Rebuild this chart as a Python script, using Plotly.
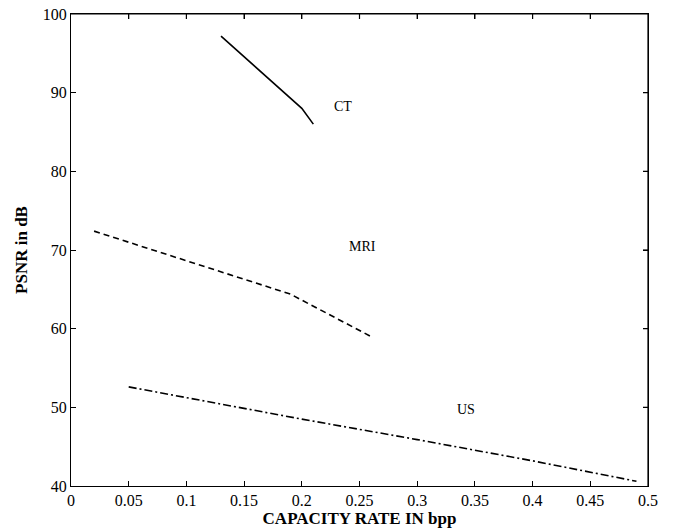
import plotly.graph_objects as go

ct_x = [0.13, 0.20, 0.21]
ct_y = [97.2, 88.0, 86.0]
mri_x = [0.02, 0.19, 0.26]
mri_y = [72.4, 64.4, 59.0]
us_x = [0.05, 0.20, 0.30, 0.40, 0.49]
us_y = [52.6, 48.5, 45.9, 43.2, 40.6]

labels = ["CT", "MRI", "US"]
label_x = [0.2355, 0.253, 0.342]
label_y = [88.2, 70.4, 49.7]

x_ticks = [0, 0.05, 0.1, 0.15, 0.2, 0.25, 0.3, 0.35, 0.4, 0.45, 0.5]
x_tick_text = ["0", "0.05", "0.1", "0.15", "0.2", "0.25", "0.3", "0.35", "0.4", "0.45", "0.5"]
y_ticks = [40, 50, 60, 70, 80, 90, 100]

font_family = "Liberation Serif, Times New Roman, serif"

X_RANGE = [0, 0.5]
Y_RANGE = [40, 100]
W, H = 674, 530
M = dict(l=71, r=26, t=14, b=44)
plot_w = W - M["l"] - M["r"]
plot_h = H - M["t"] - M["b"]
tick_px = 5
dx_tick = tick_px * (X_RANGE[1] - X_RANGE[0]) / plot_w
dy_tick = tick_px * (Y_RANGE[1] - Y_RANGE[0]) / plot_h

# frame (top and right sides) plus their inward ticks, built from the axis ranges/ticks
fx = [X_RANGE[0], X_RANGE[1], X_RANGE[1], None]
fy = [Y_RANGE[1], Y_RANGE[1], Y_RANGE[0], None]
for t in x_ticks[1:-1]:
    fx += [t, t, None]
    fy += [Y_RANGE[1], Y_RANGE[1] - dy_tick, None]
for t in y_ticks[1:-1]:
    fx += [X_RANGE[1], X_RANGE[1] - dx_tick, None]
    fy += [t, t, None]

fig = go.Figure()
fig.add_trace(go.Scatter(x=ct_x, y=ct_y, mode="lines",
                         line=dict(color="black", width=1.6, dash="solid")))
fig.add_trace(go.Scatter(x=mri_x, y=mri_y, mode="lines",
                         line=dict(color="black", width=1.6, dash="6px,4px")))
fig.add_trace(go.Scatter(x=us_x, y=us_y, mode="lines",
                         line=dict(color="black", width=1.6, dash="8px,3px,2px,3px")))
fig.add_trace(go.Scatter(x=fx, y=fy, mode="lines", cliponaxis=False,
                         hoverinfo="skip", connectgaps=False,
                         line=dict(color="black", width=1.2)))

for t, xx, yy in zip(labels, label_x, label_y):
    fig.add_annotation(x=xx, y=yy, text=t, showarrow=False,
                       font=dict(family=font_family, size=14, color="black"))

axis_common = dict(showgrid=False, zeroline=False, showline=True, linecolor="black",
                   linewidth=1.2, mirror="ticks", ticks="inside", ticklen=tick_px,
                   tickcolor="black", tickwidth=1,
                   tickfont=dict(family=font_family, size=16, color="black"))

fig.update_xaxes(range=X_RANGE, tickvals=x_ticks, ticktext=x_tick_text,
                 title=dict(text="<b>CAPACITY RATE IN bpp</b>",
                            font=dict(family=font_family, size=17, color="black"),
                            standoff=3),
                 **axis_common)
fig.update_yaxes(range=Y_RANGE, tickvals=y_ticks,
                 title=dict(text="<b>PSNR in dB</b>",
                            font=dict(family=font_family, size=17, color="black"),
                            standoff=10),
                 **axis_common)

fig.update_layout(width=W, height=H, showlegend=False,
                  paper_bgcolor="white", plot_bgcolor="white",
                  margin=dict(**M, autoexpand=False))

fig.write_html("out.html", config={"displayModeBar": False},
               post_script="document.body.style.margin='0';document.body.style.overflow='hidden';")
